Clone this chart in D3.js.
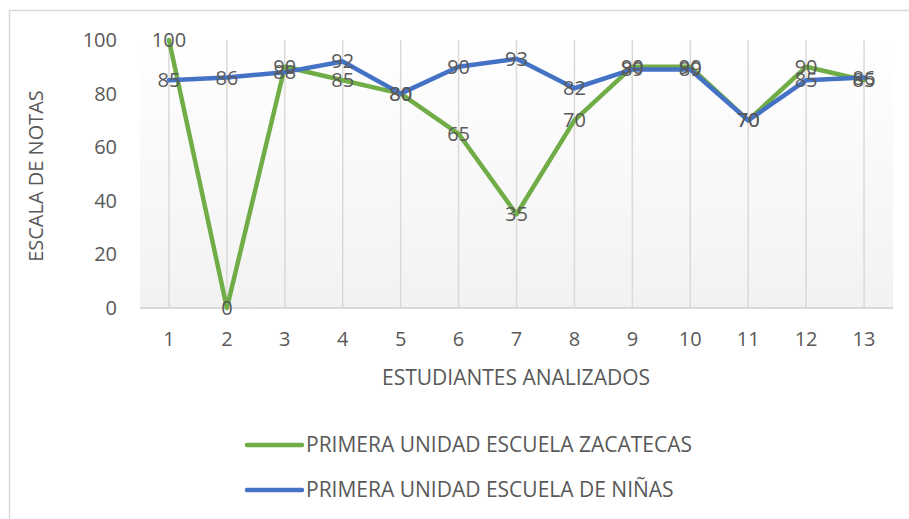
<!DOCTYPE html>
<html>
<head>
<meta charset="utf-8">
<script src="https://cdn.jsdelivr.net/npm/d3@7"></script>
<style>
  body { margin: 0; background: #fff; }
  text { font-family: "Open Sans", sans-serif; fill: #595959; }
</style>
</head>
<body>
<div id="chart"></div>
<script>
// data
var students = ["1","2","3","4","5","6","7","8","9","10","11","12","13"];
var zacatecas = [100, 0, 90, 85, 80, 65, 35, 70, 90, 90, 70, 90, 85];
var ninas = [85, 86, 88, 92, 80, 90, 93, 82, 89, 89, 70, 85, 86];
var yTicks = [0, 20, 40, 60, 80, 100];
var seriesNames = ["PRIMERA UNIDAD ESCUELA ZACATECAS", "PRIMERA UNIDAD ESCUELA DE NIÑAS"];
var seriesColors = ["#70ad47", "#4472c4"];

var W = 909, H = 519;
var pLeft = 140, pRight = 893, pTop = 40, pBottom = 308;

var svg = d3.select("#chart").append("svg")
    .attr("width", W).attr("height", H);

// chart border (runs off the right / bottom edge)
svg.append("rect")
    .attr("x", 9.5).attr("y", 10.5)
    .attr("width", 940).attr("height", 540)
    .attr("fill", "#fff").attr("stroke", "#d9d9d9").attr("stroke-width", 1.5);

var defs = svg.append("defs");
var grad = defs.append("linearGradient").attr("id", "bg")
    .attr("x1", 0).attr("y1", 0).attr("x2", 0).attr("y2", 1);
grad.append("stop").attr("offset", "0%").attr("stop-color", "#ffffff");
grad.append("stop").attr("offset", "100%").attr("stop-color", "#f2f2f2");

var x = d3.scaleBand().domain(students).range([pLeft, pRight]);
var y = d3.scaleLinear().domain([0, 100]).range([pBottom, pTop]);
var cx = function(d) { return x(d) + x.bandwidth() / 2; };

svg.append("rect")
    .attr("x", pLeft).attr("y", pTop)
    .attr("width", pRight - pLeft).attr("height", pBottom - pTop)
    .attr("fill", "url(#bg)");

// vertical gridlines at each student
svg.selectAll(".vgrid").data(students).enter().append("line")
    .attr("x1", cx).attr("x2", cx)
    .attr("y1", y(100)).attr("y2", pBottom)
    .attr("stroke", "#d9d9d9").attr("stroke-width", 1.5);

// x axis line
svg.append("line")
    .attr("x1", pLeft).attr("x2", pRight)
    .attr("y1", pBottom).attr("y2", pBottom)
    .attr("stroke", "#d9d9d9").attr("stroke-width", 2);

// y tick labels
svg.selectAll(".ytick").data(yTicks).enter().append("text")
    .attr("x", 117).attr("y", function(d) { return y(d); })
    .attr("dy", "0.35em")
    .attr("text-anchor", "end")
    .style("font-size", "20px")
    .text(function(d) { return d; });

// x tick labels
svg.selectAll(".xtick").data(students).enter().append("text")
    .attr("x", cx).attr("y", 339)
    .attr("dy", "0.35em")
    .attr("text-anchor", "middle")
    .style("font-size", "20px")
    .text(function(d) { return d; });

// axis titles
svg.append("text")
    .attr("x", 516).attr("y", 378)
    .attr("dy", "0.35em")
    .attr("text-anchor", "middle")
    .style("font-size", "21px")
    .text("ESTUDIANTES ANALIZADOS");

svg.append("text")
    .attr("transform", "translate(36,176) rotate(-90)")
    .attr("dy", "0.35em")
    .attr("text-anchor", "middle")
    .style("font-size", "20px")
    .text("ESCALA DE NOTAS");

// lines
var line = d3.line()
    .x(function(d, i) { return cx(students[i]); })
    .y(function(d) { return y(d); });

[zacatecas, ninas].forEach(function(s, k) {
    svg.append("path")
        .datum(s)
        .attr("d", line)
        .attr("fill", "none")
        .attr("stroke", seriesColors[k])
        .attr("stroke-width", 4.5)
        .attr("stroke-linejoin", "round")
        .attr("stroke-linecap", "round");
});

// data labels, centred on the points
[zacatecas, ninas].forEach(function(s) {
    svg.selectAll(null).data(s).enter().append("text")
        .attr("x", function(d, i) { return cx(students[i]); })
        .attr("y", function(d) { return y(d); })
        .attr("dy", "0.35em")
        .attr("text-anchor", "middle")
        .style("font-size", "20px")
        .text(function(d) { return d; });
});

// legend
var leg = svg.selectAll(".leg").data(seriesNames).enter().append("g")
    .attr("transform", function(d, i) { return "translate(247," + (445 + i * 45) + ")"; });
leg.append("line")
    .attr("x1", 0).attr("x2", 55)
    .attr("stroke", function(d, i) { return seriesColors[i]; })
    .attr("stroke-width", 4.5)
    .attr("stroke-linecap", "round");
leg.append("text")
    .attr("x", 59).attr("dy", "0.35em")
    .style("font-size", "21px")
    .text(function(d) { return d; });
</script>
</body>
</html>
